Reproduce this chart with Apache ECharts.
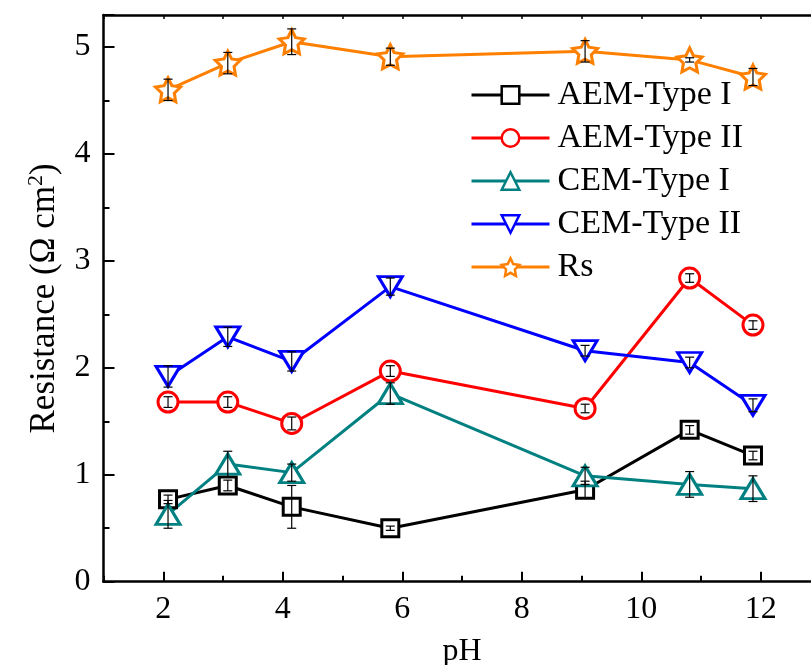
<!DOCTYPE html>
<html>
<head>
<meta charset="utf-8">
<script src="https://cdn.jsdelivr.net/npm/echarts@6/dist/echarts.min.js"></script>
<style>
  html, body { margin: 0; padding: 0; background: #fff; }
  #chart { width: 811px; height: 665px; }
</style>
</head>
<body>
<div id="chart"></div>
<script>
// pH values at which each membrane resistance was measured
const pH = [2.08, 3.08, 4.15, 5.80, 9.06, 10.81, 11.87];

// Resistance values (Ω cm²) and their error margins
const aemType1 = [0.77, 0.90, 0.70, 0.50, 0.86, 1.42, 1.18];
const aemType1Err = [0.04, 0.05, 0.20, 0.02, 0.08, 0.04, 0.04];

const aemType2 = [1.68, 1.68, 1.48, 1.97, 1.62, 2.84, 2.40];
const aemType2Err = [0.05, 0.05, 0.06, 0.05, 0.04, 0.04, 0.04];

const cemType1 = [0.63, 1.10, 1.02, 1.76, 0.99, 0.91, 0.87];
const cemType1Err = [0.13, 0.12, 0.08, 0.10, 0.08, 0.12, 0.12];

const cemType2 = [1.92, 2.29, 2.06, 2.76, 2.16, 2.05, 1.65];
const cemType2Err = [0.10, 0.09, 0.09, 0.08, 0.05, 0.05, 0.06];

const rs = [4.60, 4.85, 5.05, 4.91, 4.96, 4.88, 4.72];
const rsErr = [0.10, 0.10, 0.12, 0.08, 0.10, 0.02, 0.08];

const seriesNames = ['AEM-Type I', 'AEM-Type II', 'CEM-Type I', 'CEM-Type II', 'Rs'];

const FONT = 'Liberation Serif';
const STAR = 'path://M50,0 L64.69,29.78 L97.55,34.55 L73.78,57.73 L79.39,90.45 L50,75 L20.61,90.45 L26.22,57.73 L2.45,34.55 L35.31,29.78 Z';

const styles = [
  { color: '#000000', symbol: 'rect', size: [17, 17], rotate: 0 },
  { color: '#ff0000', symbol: 'circle', size: [20, 20], rotate: 0 },
  { color: '#008080', symbol: 'triangle', size: [24, 20], rotate: 0 },
  { color: '#0000ff', symbol: 'triangle', size: [24, 20], rotate: 180 },
  { color: '#ff8000', symbol: STAR, size: [25, 24], rotate: 0 }
];

const values = [aemType1, aemType2, cemType1, cemType2, rs];
const errors = [aemType1Err, aemType2Err, cemType1Err, cemType2Err, rsErr];

const lineSeries = values.map((vals, i) => ({
  name: seriesNames[i],
  type: 'line',
  data: pH.map((x, j) => [x, vals[j]]),
  symbol: styles[i].symbol,
  symbolSize: styles[i].size,
  symbolRotate: styles[i].rotate,
  lineStyle: { color: styles[i].color, width: 3 },
  itemStyle: { color: '#ffffff', borderColor: styles[i].color, borderWidth: 3 },
  emphasis: { disabled: true },
  z: 2
}));

// Vertical error bars with caps, drawn over the markers
function renderErrorBar(params, api) {
  const x = api.value(0), y = api.value(1), e = api.value(2);
  const hi = api.coord([x, y + e]);
  const lo = api.coord([x, y - e]);
  const hw = 4.5;
  const st = { stroke: '#000', lineWidth: 1.2 };
  return {
    type: 'group',
    children: [
      { type: 'line', shape: { x1: hi[0], y1: hi[1], x2: lo[0], y2: lo[1] }, style: st },
      { type: 'line', shape: { x1: hi[0] - hw, y1: hi[1], x2: hi[0] + hw, y2: hi[1] }, style: st },
      { type: 'line', shape: { x1: lo[0] - hw, y1: lo[1], x2: lo[0] + hw, y2: lo[1] }, style: st }
    ]
  };
}

const errorSeries = values.map((vals, i) => ({
  name: seriesNames[i] + ' error',
  type: 'custom',
  renderItem: renderErrorBar,
  data: pH.map((x, j) => [x, vals[j], errors[i][j]]),
  encode: { x: 0, y: 1 },
  silent: true,
  z: 5
}));

const axisLineStyle = { color: '#000', width: 2.5 };
const tickLineStyle = { color: '#000', width: 2 };
const textBase = { fontFamily: FONT, color: '#000' };

const option = {
  animation: false,
  backgroundColor: '#fff',
  textStyle: { fontFamily: FONT },
  grid: {
    left: 103.5, right: -9.5, top: 15, bottom: 83.3,
    containLabel: false, outerBoundsMode: 'none'
  },
  legend: {
    data: seriesNames,
    orient: 'vertical',
    left: 470,
    top: 78,
    padding: 0,
    itemWidth: 78,
    itemHeight: 22,
    itemGap: 9,
    lineStyle: { width: 3 },
    itemStyle: { borderWidth: 2.5 },
    textStyle: Object.assign({ fontSize: 34, lineHeight: 34, padding: [0, 0, 0, 3] }, textBase),
    selectedMode: false
  },
  xAxis: [
    {
      type: 'value', position: 'bottom', min: 1, max: 13, interval: 1,
      axisLine: { show: true, onZero: false, lineStyle: axisLineStyle },
      axisTick: { show: false },
      splitLine: { show: false },
      axisLabel: Object.assign({
        formatter: v => (v % 2 === 0 ? String(v) : ''),
        margin: 12, fontSize: 32
      }, textBase),
      name: 'pH', nameLocation: 'middle', nameGap: 54,
      nameTextStyle: Object.assign({ fontSize: 32 }, textBase)
    },
    {
      type: 'value', position: 'bottom', min: 1, max: 13, interval: 2,
      axisLine: { show: false, onZero: false },
      axisLabel: { show: false },
      axisTick: { show: true, inside: true, length: 6, lineStyle: tickLineStyle },
      minorTick: { show: true, splitNumber: 2, length: 10, lineStyle: tickLineStyle },
      splitLine: { show: false }
    },
    {
      type: 'value', position: 'top', min: 1, max: 13, interval: 1,
      axisLine: { show: true, onZero: false, lineStyle: axisLineStyle },
      axisLabel: { show: false },
      axisTick: { show: true, inside: true, length: 4, lineStyle: { color: '#000', width: 1.5 } },
      splitLine: { show: false }
    }
  ],
  yAxis: {
    type: 'value', min: 0, max: 5.3, interval: 1,
    axisLine: { show: true, onZero: false, lineStyle: axisLineStyle },
    axisTick: { show: true, inside: true, length: 11, lineStyle: tickLineStyle },
    minorTick: { show: true, splitNumber: 2, length: 6, lineStyle: tickLineStyle },
    splitLine: { show: false },
    axisLabel: Object.assign({ showMaxLabel: false, margin: 13, fontSize: 32 }, textBase),
    name: '{t|Resistance (Ω cm}{s|2}{t|)}',
    nameLocation: 'middle',
    nameGap: 40,
    nameTextStyle: Object.assign({
      fontSize: 35, lineHeight: 38,
      rich: {
        t: Object.assign({ fontSize: 35, lineHeight: 38 }, textBase),
        s: Object.assign({ fontSize: 22, lineHeight: 22, verticalAlign: 'top' }, textBase)
      }
    }, textBase)
  },
  series: lineSeries.concat(errorSeries)
};

const chart = echarts.init(document.getElementById('chart'), null, { renderer: 'canvas' });
chart.setOption(option);
</script>
</body>
</html>
